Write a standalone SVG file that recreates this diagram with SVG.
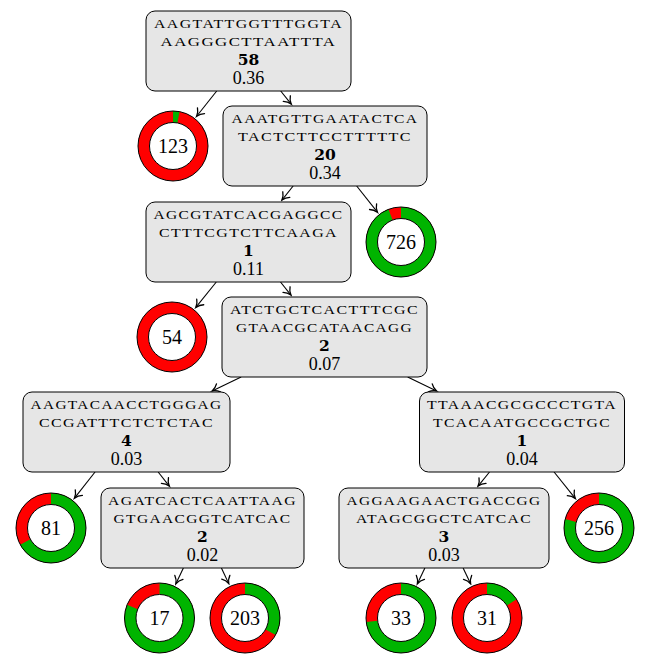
<svg xmlns="http://www.w3.org/2000/svg" width="646" height="669" viewBox="0 0 646 669">
<style>
.box{fill:#e6e6e6;stroke:#000;stroke-width:1}
.seq{font-family:"Liberation Serif",serif;font-size:13.3px;letter-spacing:1.2px;text-anchor:middle;fill:#000}
.cnt{font-family:"DejaVu Serif",serif;font-weight:bold;font-size:15.5px;text-anchor:middle;fill:#000}
.val{font-family:"Liberation Serif",serif;font-size:18px;text-anchor:middle;fill:#000}
.red{fill:none;stroke:#ff0000;stroke-width:11.5}
.grn{fill:none;stroke:#00b400;stroke-width:11.5}
.out{fill:none;stroke:#000;stroke-width:1}
.in{fill:#fff;stroke:#000;stroke-width:1}
.lbl{font-family:"Liberation Serif",serif;font-size:20px;text-anchor:middle;fill:#000}
.edge{stroke:#000;stroke-width:1.1;fill:none;marker-end:url(#arr)}
</style>
<defs>
<marker id="arr" markerUnits="userSpaceOnUse" viewBox="-9 -6 11 12" refX="0" refY="0" markerWidth="11" markerHeight="12" orient="auto">
<path d="M-7,-4.5 C-4.6,-1.6 -1.5,-0.4 0,0 C-1.5,0.4 -4.6,1.6 -7,4.5" fill="none" stroke="#000" stroke-width="1.3" stroke-linecap="round"/>
</marker>
</defs>

<g id="edges">
<line class="edge" x1="216.71" y1="91" x2="196.64" y2="116.25"/>
<line class="edge" x1="280.71" y1="91" x2="291.22" y2="104.05"/>
<line class="edge" x1="293.13" y1="186" x2="281.93" y2="200.04"/>
<line class="edge" x1="356.67" y1="186" x2="377.41" y2="212.2"/>
<line class="edge" x1="216.29" y1="282" x2="195.83" y2="307.4"/>
<line class="edge" x1="280.5" y1="282" x2="290.94" y2="295.05"/>
<line class="edge" x1="241.13" y1="377" x2="212.12" y2="390.92"/>
<line class="edge" x1="407.66" y1="377" x2="436.59" y2="390.92"/>
<line class="edge" x1="95.04" y1="472" x2="74.49" y2="498.13"/>
<line class="edge" x1="158.17" y1="472" x2="169.28" y2="486.04"/>
<line class="edge" x1="183.39" y1="568" x2="175.88" y2="583.71"/>
<line class="edge" x1="221.39" y1="568" x2="228.77" y2="583.64"/>
<line class="edge" x1="489.5" y1="472" x2="478.08" y2="486.06"/>
<line class="edge" x1="554.08" y1="472" x2="575.22" y2="498.36"/>
<line class="edge" x1="424.89" y1="568" x2="417.38" y2="583.71"/>
<line class="edge" x1="463.11" y1="568" x2="470.62" y2="583.71"/>
</g>

<g id="node-root">
<rect class="box" x="146" y="11" width="205" height="80" rx="9"/>
<text class="seq" x="248.5" y="28.3" textLength="189" lengthAdjust="spacingAndGlyphs">AAGTATTGGTTTGGTA</text>
<text class="seq" x="248.5" y="46" textLength="176" lengthAdjust="spacingAndGlyphs">AAGGGCTTAATTTA</text>
<text class="cnt" x="248.5" y="64.5">58</text>
<text class="val" x="248.5" y="84.3">0.36</text>
</g>

<g id="node-20">
<rect class="box" x="223" y="106" width="204" height="80" rx="9"/>
<text class="seq" x="325" y="123.3" textLength="187" lengthAdjust="spacingAndGlyphs">AAATGTTGAATACTCA</text>
<text class="seq" x="325" y="141" textLength="174" lengthAdjust="spacingAndGlyphs">TACTCTTCCTTTTTC</text>
<text class="cnt" x="325" y="159.5">20</text>
<text class="val" x="325" y="179.3">0.34</text>
</g>

<g id="node-1a">
<rect class="box" x="146" y="202" width="205" height="80" rx="9"/>
<text class="seq" x="248.5" y="219.3" textLength="190" lengthAdjust="spacingAndGlyphs">AGCGTATCACGAGGCC</text>
<text class="seq" x="248.5" y="237" textLength="179" lengthAdjust="spacingAndGlyphs">CTTTCGTCTTCAAGA</text>
<text class="cnt" x="248.5" y="255.5">1</text>
<text class="val" x="248.5" y="275.3">0.11</text>
</g>

<g id="node-2a">
<rect class="box" x="222" y="297" width="205" height="80" rx="9"/>
<text class="seq" x="324.5" y="314.3" textLength="189" lengthAdjust="spacingAndGlyphs">ATCTGCTCACTTTCGC</text>
<text class="seq" x="324.5" y="332" textLength="177" lengthAdjust="spacingAndGlyphs">GTAACGCATAACAGG</text>
<text class="cnt" x="324.5" y="350.5">2</text>
<text class="val" x="324.5" y="370.3">0.07</text>
</g>

<g id="node-4">
<rect class="box" x="23" y="392" width="207" height="80" rx="9"/>
<text class="seq" x="126.5" y="409.3" textLength="192" lengthAdjust="spacingAndGlyphs">AAGTACAACCTGGGAG</text>
<text class="seq" x="126.5" y="427" textLength="175" lengthAdjust="spacingAndGlyphs">CCGATTTCTCTCTAC</text>
<text class="cnt" x="126.5" y="445.5">4</text>
<text class="val" x="126.5" y="465.3">0.03</text>
</g>

<g id="node-1b">
<rect class="box" x="419.5" y="392" width="205" height="80" rx="9"/>
<text class="seq" x="522" y="409.3" textLength="190" lengthAdjust="spacingAndGlyphs">TTAAACGCGCCCTGTA</text>
<text class="seq" x="522" y="427" textLength="178" lengthAdjust="spacingAndGlyphs">TCACAATGCCGCTGC</text>
<text class="cnt" x="522" y="445.5">1</text>
<text class="val" x="522" y="465.3">0.04</text>
</g>

<g id="node-2b">
<rect class="box" x="101" y="488" width="203" height="80" rx="9"/>
<text class="seq" x="202.5" y="505.3" textLength="189" lengthAdjust="spacingAndGlyphs">AGATCACTCAATTAAG</text>
<text class="seq" x="202.5" y="523" textLength="178" lengthAdjust="spacingAndGlyphs">GTGAACGGTCATCAC</text>
<text class="cnt" x="202.5" y="541.5">2</text>
<text class="val" x="202.5" y="561.3">0.02</text>
</g>

<g id="node-3">
<rect class="box" x="339" y="488" width="210" height="80" rx="9"/>
<text class="seq" x="444" y="505.3" textLength="195" lengthAdjust="spacingAndGlyphs">AGGAAGAACTGACCGG</text>
<text class="seq" x="444" y="523" textLength="176" lengthAdjust="spacingAndGlyphs">ATAGCGGCTCATCAC</text>
<text class="cnt" x="444" y="541.5">3</text>
<text class="val" x="444" y="561.3">0.03</text>
</g>

<g id="leaf-123">
<circle class="red" cx="173" cy="146" r="29.25"/>
<circle class="grn" cx="173" cy="146" r="29.25" stroke-dasharray="5.51 200" transform="rotate(-90 173 146)"/>
<circle class="out" cx="173" cy="146" r="35"/>
<circle class="in" cx="173" cy="146" r="23.5"/>
<text class="lbl" x="173" y="153">123</text>
</g>

<g id="leaf-726">
<circle class="red" cx="401" cy="242" r="29.25"/>
<circle class="grn" cx="401" cy="242" r="29.25" stroke-dasharray="172.75 200" transform="rotate(-90 401 242)"/>
<circle class="out" cx="401" cy="242" r="35"/>
<circle class="in" cx="401" cy="242" r="23.5"/>
<text class="lbl" x="401" y="249">726</text>
</g>

<g id="leaf-54">
<circle class="red" cx="172" cy="337" r="29.25"/>
<circle class="out" cx="172" cy="337" r="35"/>
<circle class="in" cx="172" cy="337" r="23.5"/>
<text class="lbl" x="172" y="344">54</text>
</g>

<g id="leaf-81">
<circle class="red" cx="51" cy="528" r="29.25"/>
<circle class="grn" cx="51" cy="528" r="29.25" stroke-dasharray="123.13 200" transform="rotate(-90 51 528)"/>
<circle class="out" cx="51" cy="528" r="35"/>
<circle class="in" cx="51" cy="528" r="23.5"/>
<text class="lbl" x="51" y="535">81</text>
</g>

<g id="leaf-256">
<circle class="red" cx="599" cy="528" r="29.25"/>
<circle class="grn" cx="599" cy="528" r="29.25" stroke-dasharray="145.19 200" transform="rotate(-90 599 528)"/>
<circle class="out" cx="599" cy="528" r="35"/>
<circle class="in" cx="599" cy="528" r="23.5"/>
<text class="lbl" x="599" y="535">256</text>
</g>

<g id="leaf-17">
<circle class="red" cx="159.5" cy="618" r="29.25"/>
<circle class="grn" cx="159.5" cy="618" r="29.25" stroke-dasharray="148.86 200" transform="rotate(-90 159.5 618)"/>
<circle class="out" cx="159.5" cy="618" r="35"/>
<circle class="in" cx="159.5" cy="618" r="23.5"/>
<text class="lbl" x="159.5" y="625">17</text>
</g>

<g id="leaf-203">
<circle class="red" cx="245" cy="618" r="29.25"/>
<circle class="grn" cx="245" cy="618" r="29.25" stroke-dasharray="60.65 200" transform="rotate(-90 245 618)"/>
<circle class="out" cx="245" cy="618" r="35"/>
<circle class="in" cx="245" cy="618" r="23.5"/>
<text class="lbl" x="245" y="625">203</text>
</g>

<g id="leaf-33">
<circle class="red" cx="401" cy="618" r="29.25"/>
<circle class="grn" cx="401" cy="618" r="29.25" stroke-dasharray="134.16 200" transform="rotate(-90 401 618)"/>
<circle class="out" cx="401" cy="618" r="35"/>
<circle class="in" cx="401" cy="618" r="23.5"/>
<text class="lbl" x="401" y="625">33</text>
</g>

<g id="leaf-31">
<circle class="red" cx="487" cy="618" r="29.25"/>
<circle class="grn" cx="487" cy="618" r="29.25" stroke-dasharray="29.4 200" transform="rotate(-90 487 618)"/>
<circle class="out" cx="487" cy="618" r="35"/>
<circle class="in" cx="487" cy="618" r="23.5"/>
<text class="lbl" x="487" y="625">31</text>
</g>
</svg>
